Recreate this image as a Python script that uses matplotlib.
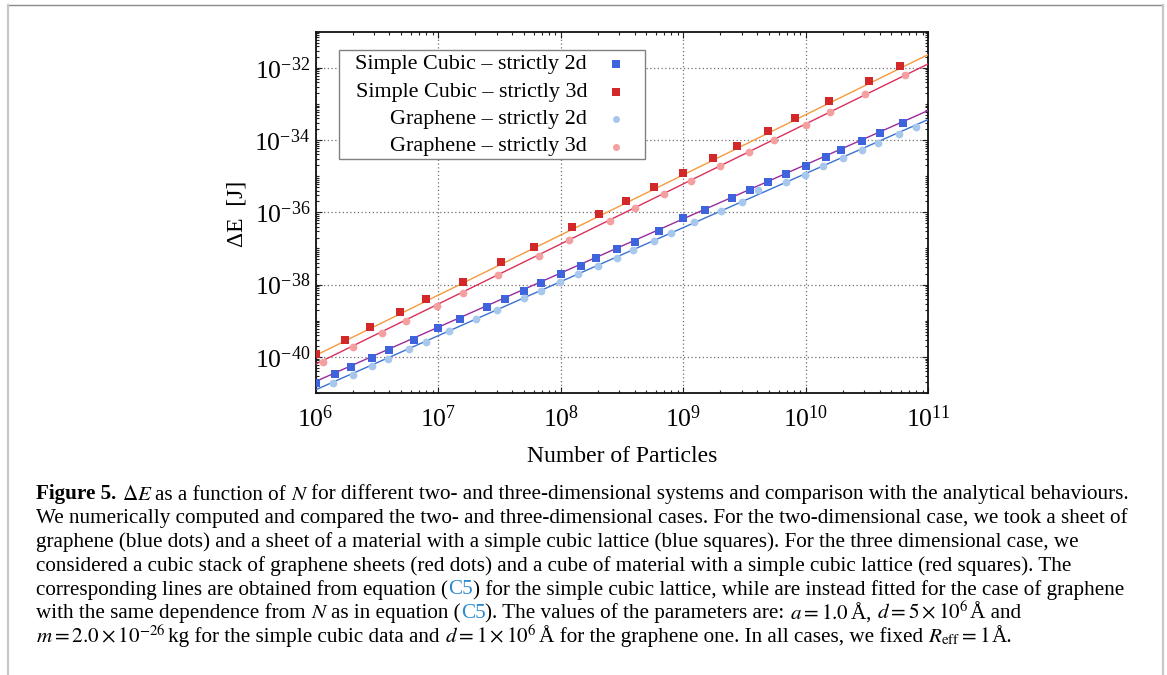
import numpy as np
import matplotlib
matplotlib.use("Agg")
import matplotlib.pyplot as plt
from matplotlib.ticker import FixedLocator, LogFormatterSciNotation, NullFormatter
from matplotlib.lines import Line2D
from matplotlib.patches import Rectangle

plt.rcParams['font.family'] = ['Liberation Serif', 'DejaVu Serif']
plt.rcParams['mathtext.fontset'] = 'stix'

# ---------------- data ----------------
sc2d_N = [1.0e6, 1.45e6, 1.95e6, 2.9e6, 4.0e6, 6.3e6, 1.0e7, 1.5e7, 2.5e7, 3.5e7,
          5.0e7, 6.9e7, 1.0e8, 1.45e8, 1.95e8, 2.9e8, 4.0e8, 6.3e8, 1.0e9, 1.5e9,
          2.5e9, 3.5e9, 4.9e9, 6.9e9, 1.0e10, 1.45e10, 1.95e10, 2.9e10, 4.0e10, 6.2e10]
sc2d_E = [1.86e-41, 3.39e-41, 5.25e-41, 9.33e-41, 1.55e-40, 2.88e-40, 6.31e-40, 1.12e-39,
          2.40e-39, 3.98e-39, 6.61e-39, 1.12e-38, 1.91e-38, 3.24e-38, 5.50e-38, 9.77e-38,
          1.51e-37, 3.02e-37, 6.76e-37, 1.17e-36, 2.51e-36, 4.17e-36, 6.92e-36, 1.15e-35,
          1.91e-35, 3.39e-35, 5.37e-35, 9.55e-35, 1.58e-34, 2.95e-34]

sc3d_N = [1.0e6, 1.74e6, 2.75e6, 4.9e6, 7.9e6, 1.58e7, 3.24e7, 6.0e7, 1.23e8, 2.04e8,
          3.39e8, 5.75e8, 1.0e9, 1.74e9, 2.75e9, 4.9e9, 8.1e9, 1.55e10, 3.31e10, 5.9e10]
sc3d_E = [1.23e-40, 2.88e-40, 6.76e-40, 1.74e-39, 3.98e-39, 1.17e-38, 4.27e-38, 1.10e-37,
          3.89e-37, 8.91e-37, 2.04e-36, 5.01e-36, 1.23e-35, 3.24e-35, 6.92e-35, 1.78e-34,
          4.07e-34, 1.20e-33, 4.27e-33, 1.15e-32]

gr2d_N = [1.38e6, 2.0e6, 2.88e6, 3.89e6, 5.75e6, 7.9e6, 1.23e7, 2.04e7, 3.02e7, 5.0e7,
          6.9e7, 9.8e7, 1.38e8, 2.0e8, 2.88e8, 3.89e8, 5.75e8, 7.9e8, 1.23e9, 2.04e9,
          3.02e9, 4.07e9, 6.9e9, 9.8e9, 1.38e10, 2.0e10, 2.88e10, 3.89e10, 5.75e10, 7.9e10]
gr2d_E = [1.86e-41, 3.24e-41, 5.50e-41, 8.91e-41, 1.62e-40, 2.63e-40, 5.13e-40, 1.10e-39,
          1.95e-39, 4.17e-39, 6.76e-39, 1.15e-38, 1.91e-38, 3.31e-38, 5.62e-38, 9.33e-38,
          1.66e-37, 2.69e-37, 5.25e-37, 1.07e-36, 1.95e-36, 4.07e-36, 6.76e-36, 1.10e-35,
          1.86e-35, 3.16e-35, 5.37e-35, 8.32e-35, 1.48e-34, 2.29e-34]

gr3d_N = [1.15e6, 2.0e6, 3.47e6, 5.5e6, 9.8e6, 1.58e7, 3.09e7, 6.6e7, 1.17e8, 2.51e8,
          4.07e8, 6.9e8, 1.15e9, 2.0e9, 3.47e9, 5.5e9, 1.0e10, 1.58e10, 3.02e10, 6.5e10]
gr3d_E = [7.08e-41, 1.82e-40, 4.57e-40, 9.77e-40, 2.63e-39, 5.89e-39, 1.82e-38, 6.17e-38,
          1.70e-37, 5.75e-37, 1.32e-36, 3.16e-36, 7.41e-36, 1.91e-35, 4.68e-35, 1.0e-34,
          2.69e-34, 6.17e-34, 1.86e-33, 6.46e-33]

# analytic / fitted lines (endpoints)
line_N = [1e6, 1e11]
line_sc3d = [1.10e-40, 2.34e-32]
line_gr3d = [6.31e-41, 1.29e-32]
line_sc2d = [2.09e-41, 6.61e-34]
line_gr2d = [1.23e-41, 3.72e-34]

legend_labels = ["Simple Cubic \u2013 strictly 2d", "Simple Cubic \u2013 strictly 3d",
                 "Graphene \u2013 strictly 2d", "Graphene \u2013 strictly 3d"]

# ---------------- styles ----------------
C_SC2D = '#3f63dc'
C_SC3D = '#d2282a'
C_GR2D = '#a7c7ec'
C_GR3D = '#f5a0a0'
L_SC3D = '#f59a3c'
L_GR3D = '#dc2f5a'
L_SC2D = '#9a2a9e'
L_GR2D = '#3a72d2'

W, H = 1167, 675
fig = plt.figure(figsize=(W / 100, H / 100), dpi=100)
ax = fig.add_axes([315.7 / W, 1 - 393 / H, (928.3 - 315.7) / W, (393 - 31.7) / H])
ax.set_xscale('log')
ax.set_yscale('log')
ax.set_xlim(1e6, 1e11)
ax.set_ylim(1e-41, 1e-31)

lw = 1.0
ax.plot(line_N, line_sc3d, color=L_SC3D, lw=lw, zorder=3)
ax.plot(line_N, line_gr3d, color=L_GR3D, lw=lw, zorder=3)
ax.plot(line_N, line_sc2d, color=L_SC2D, lw=lw, zorder=3)
ax.plot(line_N, line_gr2d, color=L_GR2D, lw=lw, zorder=3)

ms_sq = 6.0
ms_ci = 5.6
ax.plot(sc2d_N, sc2d_E, 's', color=C_SC2D, ms=ms_sq, mew=0, zorder=4)
ax.plot(sc3d_N, sc3d_E, 's', color=C_SC3D, ms=ms_sq, mew=0, zorder=4)
ax.plot(gr2d_N, gr2d_E, 'o', color=C_GR2D, ms=ms_ci, mew=0, zorder=4)
ax.plot(gr3d_N, gr3d_E, 'o', color=C_GR3D, ms=ms_ci, mew=0, zorder=4)

# ticks
ax.xaxis.set_major_locator(FixedLocator([10.0 ** e for e in range(6, 12)]))
ax.xaxis.set_minor_locator(FixedLocator([k * 10.0 ** e for e in range(6, 11) for k in range(2, 10)]))
ymaj = [10.0 ** e for e in range(-40, -31, 2)]
ax.yaxis.set_major_locator(FixedLocator(ymaj))
ymin = [k * 10.0 ** e for e in range(-41, -31) for k in range(1, 10)]
ymin = [v for v in ymin if not any(abs(np.log10(v) - np.log10(m)) < 1e-6 for m in ymaj)]
ax.yaxis.set_minor_locator(FixedLocator(ymin))
ax.xaxis.set_major_formatter(LogFormatterSciNotation())
ax.yaxis.set_major_formatter(LogFormatterSciNotation())
ax.xaxis.set_minor_formatter(NullFormatter())
ax.yaxis.set_minor_formatter(NullFormatter())
ax.tick_params(which='both', direction='in', top=True, right=True, width=0.8, color='#222222')
ax.tick_params(which='major', length=4.5, labelsize=18.5)
ax.tick_params(which='minor', length=2.5)
ax.tick_params(axis='y', pad=4)
ax.tick_params(axis='x', pad=9)
for s in ax.spines.values():
    s.set_linewidth(1.3)
    s.set_color('#111111')
ax.grid(which='major', linestyle=(0, (1, 2)), color='#707070', linewidth=0.9, zorder=0)

# labels
fig.text(236.7 / W, 1 - 214 / H, "\u0394E  [J]", rotation=90, ha='center', va='center', fontsize=17)
fig.text(622 / W, 1 - 456 / H, "Number of Particles", ha='center', va='center', fontsize=17)

# legend (gnuplot-like: right aligned text, marker on the right)
ax_h = 393 - 31.7
ax_w = 928.3 - 315.7
def ax_x(px):
    return (px - 315.7) / ax_w
def ax_y(py):
    return (393 - py) / ax_h
ax.add_patch(Rectangle((ax_x(339.3), ax_y(159)), ax_x(645) - ax_x(339.3), ax_y(49.5) - ax_y(159),
                       transform=ax.transAxes, facecolor='white', edgecolor='#808080', lw=1.0, zorder=5))
rows_py = [64.0, 92.0, 119.5, 147.0]
styles = [('s', C_SC2D, ms_sq), ('s', C_SC3D, ms_sq), ('o', C_GR2D, ms_ci), ('o', C_GR3D, ms_ci)]
for lab, py, (mk, col, ms) in zip(legend_labels, rows_py, styles):
    ax.text(ax_x(587), ax_y(py), lab, transform=ax.transAxes, ha='right', va='center',
            fontsize=15.9, zorder=6)
    ax.plot([ax_x(616)], [ax_y(py)], mk, color=col, ms=ms * 0.9, mew=0,
            transform=ax.transAxes, clip_on=False, zorder=6)

# page frame
fig.add_artist(Line2D([7.5 / W, 1162.5 / W], [1 - 4.5 / H, 1 - 4.5 / H], color='#8a8a8a', lw=1.0))
fig.add_artist(Line2D([7.5 / W, 7.5 / W], [0, 1 - 5 / H], color='#c8c8c8', lw=1.6))
fig.add_artist(Line2D([1162.5 / W, 1162.5 / W], [0, 1 - 5 / H], color='#c8c8c8', lw=1.6))

# caption
CAP_FS = 15.2
LINK = '#2a8bd0'
caption_lines = [
    [("Figure 5.", dict(weight='bold')), (" $\\Delta E$", {}), (" as a function of", {}), (" $N$", {}),
     (" for different two- and three-dimensional systems and comparison with the analytical behaviours.", {})],
    [("We numerically computed and compared the two- and three-dimensional cases. For the two-dimensional case, we took a sheet of", {})],
    [("graphene (blue dots) and a sheet of a material with a simple cubic lattice (blue squares). For the three dimensional case, we", {})],
    [("considered a cubic stack of graphene sheets (red dots) and a cube of material with a simple cubic lattice (red squares). The", {})],
    [("corresponding lines are obtained from equation (", {}), ("C5", dict(color=LINK)),
     (") for the simple cubic lattice, while are instead fitted for the case of graphene", {})],
    [("with the same dependence from", {}), (" $N$", {}), (" as in equation (", {}), ("C5", dict(color=LINK)),
     ("). The values of the parameters are:", {}), (" $a=1.0\\,$\u00c5,", {}), (" $d=5\\times10^{6}$", {}),
     (" \u00c5 and", {})],
    [("$m=2.0\\times10^{-26}$", {}), (" kg for the simple cubic data and", {}), (" $d=1\\times10^{6}$", {}),
     (" \u00c5 for the graphene one. In all cases, we fixed", {}), (" $R_{\\mathrm{eff}}=1$", {}), (" \u00c5.", {})],
]
renderer = fig.canvas.get_renderer()
t1 = fig.text(0, 0, "xx", fontsize=CAP_FS)
t2 = fig.text(0, 0, "x x", fontsize=CAP_FS)
space_w = t2.get_window_extent(renderer).width - t1.get_window_extent(renderer).width
t1.remove(); t2.remove()

x0 = 36.0
base0 = 499.5
dy = 23.75
for i, segs in enumerate(caption_lines):
    x = x0
    yb = 1 - (base0 + i * dy) / H
    prev_math = False
    for txt, kw in segs:
        gap = 0.0
        if txt.startswith(" "):
            gap = space_w
            txt = txt[1:]
        if prev_math:
            gap *= 0.45
        x += gap
        t = fig.text(x / W, yb, txt, fontsize=CAP_FS, ha='left', va='baseline', **kw)
        x = t.get_window_extent(renderer).x1
        prev_math = txt.endswith("$")

fig.savefig("out.png", dpi=100)
